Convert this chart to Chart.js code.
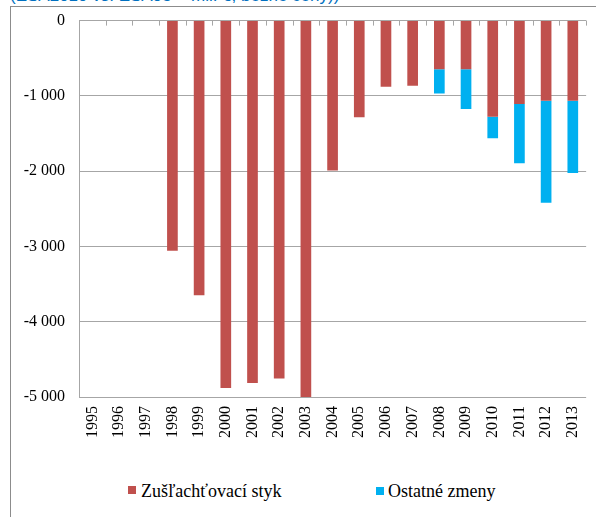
<!DOCTYPE html>
<html>
<head>
<meta charset="utf-8">
<script src="https://cdn.jsdelivr.net/npm/chart.js@4.4.1/dist/chart.umd.min.js"></script>
<style>
  body { margin: 0; background: #fff; }
  #wrap { position: relative; width: 596px; height: 517px; overflow: hidden; }
  #caption { position: absolute; left: 10px; top: -13px; font: 17px/17px "Liberation Sans", Arial, sans-serif; color: #0070c0; white-space: nowrap; }
  #frame { position: absolute; left: 10px; top: 6px; right: -2px; bottom: -2px; border-left: 1px solid #8c8c8c; border-top: 1px solid #8c8c8c; }
  #chart { position: absolute; left: 0; top: -3px; }
  .lg-box { position: absolute; width: 8px; height: 8px; }
  .lg-text { position: absolute; font: 18px/18px "Liberation Serif", "Times New Roman", serif; color: #000; white-space: nowrap; }
</style>
</head>
<body>
<div id="wrap">
  <div id="caption">(ESA2010 vs. ESA95 + mil. €, bežné ceny))</div>
  <div id="frame"></div>
  <canvas id="chart" width="601" height="463"></canvas>
  <div id="legend"></div>
</div>
<script>
const years = ['1995', '1996', '1997', '1998', '1999', '2000', '2001', '2002', '2003', '2004',
               '2005', '2006', '2007', '2008', '2009', '2010', '2011', '2012', '2013'];

// Zušľachťovací styk
const zuslachtovaciStyk = [null, null, null, -3057, -3650, -4880, -4815, -4755, -5000, -1990,
                           -1285, -878, -865, -645, -645, -1276, -1108, -1064, -1064];

// Ostatné zmeny (stacked below the red part)
const ostatneZmeny = [null, null, null, null, null, null, null, null, null, null,
                      null, null, null, -322, -530, -287, -786, -1355, -962];

const seriesNames = ['Zušľachťovací styk', 'Ostatné zmeny'];
const seriesColors = ['#c0504d', '#00b0f0'];

const yMin = -5000;
const yMax = 0;
const yStep = 1000;

const gridColor = '#a6a6a6';
const serif = '"Liberation Serif", "Times New Roman", serif';

// "-1 000" style labels
const formatTick = v => {
    const s = Math.abs(v).toString().replace(/\B(?=(\d{3})+(?!\d))/g, ' ');
    return (v < 0 ? '-' : '') + s;
};

// small tick marks hanging down from the 0 line, between categories
const topTicks = {
    id: 'topTicks',
    beforeDatasetsDraw(chart) {
        const area = chart.chartArea;
        const ctx = chart.ctx;
        const step = (area.right - area.left) / years.length;
        ctx.save();
        ctx.strokeStyle = gridColor;
        ctx.lineWidth = 1;
        for (let i = 1; i <= years.length; i++) {
            const px = Math.round(area.left + i * step) + 0.5;
            ctx.beginPath();
            ctx.moveTo(px, area.top);
            ctx.lineTo(px, area.top + 5);
            ctx.stroke();
        }
        ctx.restore();
    }
};

const ctx = document.getElementById('chart').getContext('2d');
const chart = new Chart(ctx, {
    type: 'bar',
    data: {
        labels: years,
        datasets: [
            {
                label: seriesNames[0],
                data: zuslachtovaciStyk,
                backgroundColor: seriesColors[0],
                categoryPercentage: 0.8,
                barPercentage: 0.5
            },
            {
                label: seriesNames[1],
                data: ostatneZmeny,
                backgroundColor: seriesColors[1],
                categoryPercentage: 0.8,
                barPercentage: 0.5
            }
        ]
    },
    options: {
        responsive: false,
        animation: false,
        layout: { padding: { top: 16, right: 0, left: 0, bottom: 0 } },
        plugins: {
            legend: { display: false },
            tooltip: { enabled: false }
        },
        scales: {
            x: {
                stacked: true,
                grid: { display: false, drawTicks: false },
                border: { display: false },
                ticks: {
                    color: '#000',
                    font: { family: serif, size: 16 },
                    maxRotation: 90,
                    minRotation: 90,
                    padding: 9,
                    autoSkip: false
                },
                afterFit: scale => { scale.height = 63; }
            },
            y: {
                stacked: true,
                min: yMin,
                max: yMax,
                ticks: {
                    stepSize: yStep,
                    color: '#000',
                    font: { family: serif, size: 16 },
                    padding: 14,
                    callback: v => formatTick(v)
                },
                grid: { color: gridColor, drawTicks: false },
                border: { display: true, color: gridColor },
                afterFit: scale => { scale.width = 79; }
            }
        }
    },
    plugins: [topTicks]
});

// legend as html text
const legendPos = [{ box: [128, 486], text: [141, 482] }, { box: [376, 487], text: [388, 482] }];
const legend = document.getElementById('legend');
chart.data.datasets.forEach((ds, i) => {
    const box = document.createElement('div');
    box.className = 'lg-box';
    box.style.left = legendPos[i].box[0] + 'px';
    box.style.top = legendPos[i].box[1] + 'px';
    box.style.background = ds.backgroundColor;
    legend.appendChild(box);

    const txt = document.createElement('div');
    txt.className = 'lg-text';
    txt.style.left = legendPos[i].text[0] + 'px';
    txt.style.top = legendPos[i].text[1] + 'px';
    txt.textContent = ds.label;
    legend.appendChild(txt);
});
</script>
</body>
</html>
